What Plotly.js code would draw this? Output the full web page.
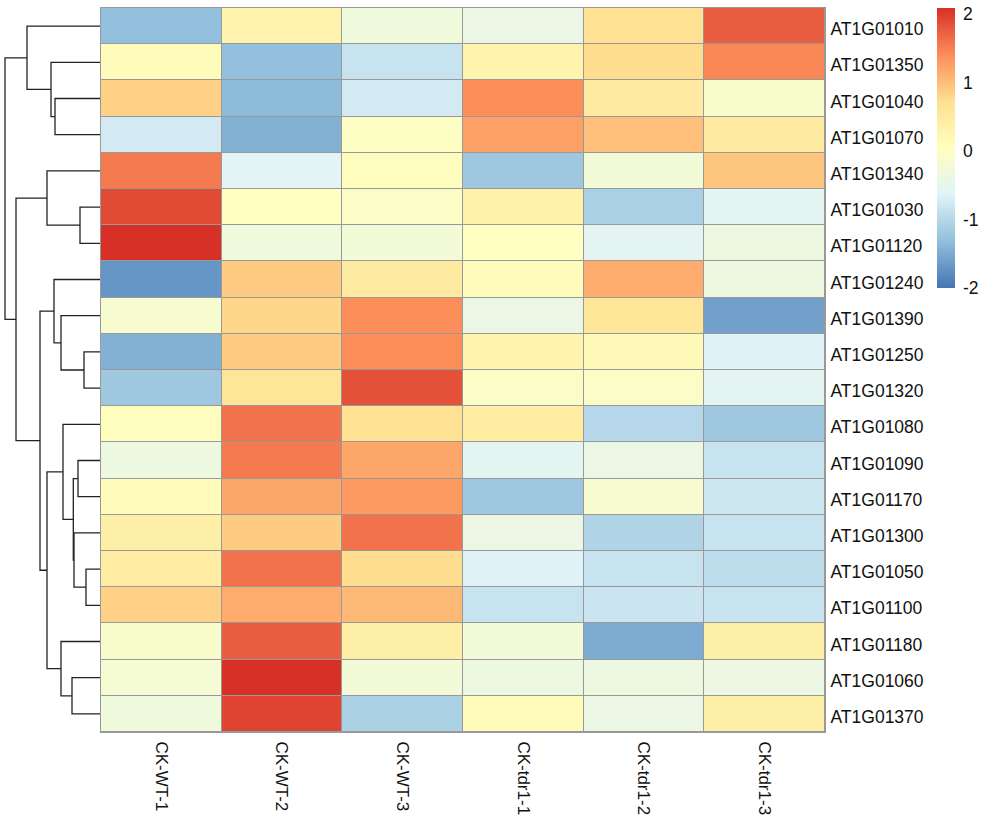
<!DOCTYPE html>
<html>
<head>
<meta charset="utf-8">
<script src="https://cdn.plot.ly/plotly-3.0.1.min.js"></script>
<style>html,body{margin:0;padding:0;background:#fff;}#chart{width:1003px;height:820px;}</style>
</head>
<body>
<div id="chart"></div>
<script>
// ---- data ----
var samples = ["CK-WT-1","CK-WT-2","CK-WT-3","CK-tdr1-1","CK-tdr1-2","CK-tdr1-3"];
var genes = ["AT1G01010","AT1G01350","AT1G01040","AT1G01070","AT1G01340","AT1G01030","AT1G01120",
             "AT1G01240","AT1G01390","AT1G01250","AT1G01320","AT1G01080","AT1G01090","AT1G01170",
             "AT1G01300","AT1G01050","AT1G01100","AT1G01180","AT1G01060","AT1G01370"];
var values = [
  [-1.30, 0.30, -0.30, -0.40, 0.70, 1.75],
  [ 0.10, -1.30, -0.85, 0.30, 0.75, 1.45],
  [ 0.85, -1.35, -0.75, 1.40, 0.50, -0.10],
  [-0.75, -1.45, 0.00, 1.25, 1.00, 0.50],
  [ 1.55, -0.60, 0.08, -1.20, -0.25, 0.95],
  [ 1.90, 0.05, -0.05, 0.35, -1.10, -0.55],
  [ 2.09, -0.30, -0.25, 0.02, -0.55, -0.35],
  [-1.70, 0.90, 0.50, 0.10, 1.15, -0.35],
  [-0.15, 0.80, 1.40, -0.40, 0.60, -1.60],
  [-1.45, 0.90, 1.40, 0.30, 0.15, -0.65],
  [-1.20, 0.60, 1.85, -0.05, -0.05, -0.55],
  [ 0.08, 1.60, 0.70, 0.45, -1.00, -1.20],
  [-0.35, 1.55, 1.20, -0.55, -0.40, -0.85],
  [ 0.10, 1.20, 1.30, -1.20, -0.15, -0.80],
  [ 0.40, 0.90, 1.60, -0.40, -1.05, -0.85],
  [ 0.45, 1.60, 0.75, -0.65, -0.85, -0.95],
  [ 0.85, 1.15, 1.05, -0.85, -0.83, -0.85],
  [-0.10, 1.75, 0.40, -0.25, -1.50, 0.40],
  [-0.18, 2.09, -0.25, -0.35, -0.35, -0.38],
  [-0.30, 1.95, -1.10, 0.12, -0.40, 0.40]
];
var zMin = -2.0, zMax = 2.09;
var legendTicks = [-2, -1, 0, 1, 2];
var legendLabels = ["-2", "-1", "0", "1", "2"];
// row dendrogram (leaf ids 0..19 in display order, merged nodes 20+k)
var mergeLeft  = [2, 1, 0, 5, 4, 9, 8, 7, 12, 15, 14, 28, 11, 18, 17, 32, 27, 24, 22];
var mergeRight = [3, 20, 21, 6, 23, 10, 25, 26, 13, 16, 29, 30, 31, 19, 33, 34, 35, 36, 37];
var mergeHeight = [45, 49, 73, 20, 53, 16, 39, 46, 22, 14, 26, 26.7, 37, 28, 39, 53, 60, 84, 95];

// ---- build ----
var rowIdx = genes.map(function(_, i){ return i; });
var colIdx = samples.map(function(_, i){ return i; });

var pos = {}, hgt = {};
rowIdx.forEach(function(i){ pos[i] = i; hgt[i] = 0; });
var dx = [], dy = [];
for (var k = 0; k < mergeHeight.length; k++) {
  var a = mergeLeft[k], b = mergeRight[k], h = mergeHeight[k], id = genes.length + k;
  dx.push(hgt[a], h, h, hgt[b], null);
  dy.push(pos[a], pos[a], pos[b], pos[b], null);
  pos[id] = (pos[a] + pos[b]) / 2;
  hgt[id] = h;
}

var colorscale = [
  [0, "#4575B4"], [1/6, "#91BFDB"], [2/6, "#E0F3F8"], [3/6, "#FFFFBF"],
  [4/6, "#FEE090"], [5/6, "#FC8D59"], [1, "#D73027"]
];
var font = "Liberation Sans, Arial, sans-serif";
var borderColor = "#999999";

var traces = [
  {
    type: "heatmap", x: colIdx, y: rowIdx, z: values,
    zmin: zMin, zmax: zMax, colorscale: colorscale,
    xgap: 1, ygap: 1, hoverinfo: "skip",
    colorbar: {
      x: 937/825, xanchor: "left", xref: "paper",
      y: 1, yanchor: "top", yref: "paper",
      thickness: 18, thicknessmode: "pixels",
      len: 280, lenmode: "pixels",
      xpad: 0, ypad: 0, outlinewidth: 0,
      tickvals: legendTicks, ticktext: legendLabels,
      ticks: "outside", ticklen: 5, tickcolor: "rgba(0,0,0,0)",
      tickfont: {family: font, size: 17.5, color: "#111"}
    }
  },
  {
    type: "scatter", mode: "lines", x: dx, y: dy, xaxis: "x2", yaxis: "y",
    line: {color: "#222", width: 1.3}, hoverinfo: "skip", showlegend: false
  }
];

var layout = {
  width: 1003, height: 820,
  margin: {l: 0, r: 178, t: 8, b: 88},
  paper_bgcolor: "#ffffff", plot_bgcolor: "#ffffff",
  showlegend: false,
  shapes: [{
    type: "rect", xref: "x", yref: "y", layer: "below",
    x0: -0.5, x1: samples.length - 0.5, y0: -0.5, y1: genes.length - 0.5,
    fillcolor: borderColor, line: {width: 0}
  }],
  xaxis: {
    domain: [101/825, 1], range: [-0.5, samples.length - 0.5],
    tickvals: colIdx, ticktext: samples, tickangle: 90,
    ticks: "", showgrid: false, zeroline: false,
    showline: true, mirror: true, linecolor: borderColor, linewidth: 1,
    tickfont: {family: font, size: 17, color: "#111"},
    ticklabelstandoff: 5, fixedrange: true
  },
  xaxis2: {
    domain: [0, 100/825], range: [100, 0], anchor: "y",
    showticklabels: false, ticks: "", showgrid: false, zeroline: false,
    showline: false, fixedrange: true
  },
  yaxis: {
    range: [genes.length - 0.5, -0.5], side: "right",
    tickvals: rowIdx, ticktext: genes,
    ticks: "", showgrid: false, zeroline: false,
    showline: true, mirror: true, linecolor: borderColor, linewidth: 1,
    tickfont: {family: font, size: 17.5, color: "#111"},
    ticklabelstandoff: 1, ticklabelshift: -3, fixedrange: true
  }
};

Plotly.newPlot("chart", traces, layout, {displayModeBar: false, staticPlot: true});
</script>
</body>
</html>
